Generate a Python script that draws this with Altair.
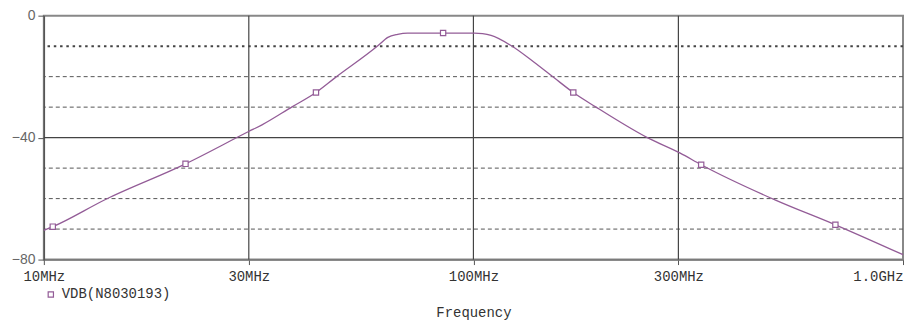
import altair as alt
import pandas as pd

# Curve samples (frequency in MHz, magnitude in dB)
freq_mhz = [10.0, 10.49, 13.95, 21.37, 29.97, 32.2, 37.82, 43.0, 47.6, 60.0, 63.2, 66.6,
            70.3, 85.0, 100.5, 105.0, 109.9, 122.3, 138.2, 153.9, 170.8, 192.5, 254.0, 303.0,
            339.0, 505.0, 696.0, 1000.0]
vdb = [-70.4, -69.2, -60.2, -48.6, -38.0, -35.8, -29.9, -25.2, -20.4, -9.8, -7.1, -6.1,
       -5.7, -5.7, -5.7, -5.9, -6.5, -9.8, -15.2, -20.3, -25.2, -29.9, -40.0, -45.1,
       -48.9, -60.5, -68.6, -78.4]

# Marker positions
marker_freq = [10.49, 21.37, 43.0, 85.0, 170.8, 339.0, 696.0]
marker_vdb = [-69.2, -48.6, -25.2, -5.7, -25.2, -48.9, -68.6]

series_name = "VDB(N8030193)"

x_tick_values = [10, 30, 100, 300, 1000]
x_tick_labels = ["10MHz", "30MHz", "100MHz", "300MHz", "1.0GHz"]
y_tick_values = [0, -40, -80]

dashed_levels = [-20, -30, -50, -60, -70]
dotted_levels = [-10]
solid_levels = [-40]
vertical_grid = [30, 100, 300]

PURPLE = "#935c97"
GRID = "#555555"
MONO = "Liberation Mono"

curve_df = pd.DataFrame({"f": freq_mhz, "db": vdb})
marker_df = pd.DataFrame({"f": marker_freq, "db": marker_vdb, "series": [series_name] * len(marker_freq)})

label_expr = " : ".join(
    [f"datum.value == {v} ? '{l}'" for v, l in zip(x_tick_values, x_tick_labels)]
) + " : ''"

x_scale = alt.Scale(type="log", domain=[10, 1000], nice=False)
y_scale = alt.Scale(domain=[-80, 0], nice=False)

x_axis = alt.Axis(
    values=x_tick_values,
    labelExpr=label_expr,
    grid=False,
    tickSize=5,
    tickColor="#555",
    domainColor="#777",
    domainWidth=1.5,
    labelFont=MONO,
    labelFontSize=14,
    labelColor="#333",
    labelPadding=5,
    labelAlign={"condition": {"test": "datum.value == 1000", "value": "right"}, "value": "center"},
    title="Frequency",
    titleFont=MONO,
    titleFontSize=14,
    titleFontWeight="normal",
    titleColor="#333",
    titleY=53,
    titleBaseline="middle",
)

y_axis = alt.Axis(
    values=y_tick_values,
    grid=False,
    tickSize=6,
    tickColor="#555",
    domainColor="#555",
    domainWidth=1.5,
    labelFont="Liberation Sans",
    labelFontSize=14,
    labelColor="#666",
    labelPadding=3,
    title=None,
)

dashed = alt.Chart(pd.DataFrame({"y": dashed_levels})).mark_rule(
    color=GRID, strokeWidth=1, strokeDash=[4, 3]
).encode(y=alt.Y("y:Q", scale=y_scale, axis=y_axis))

dotted = alt.Chart(pd.DataFrame({"y": dotted_levels})).mark_rule(
    color="#444", strokeWidth=2, strokeDash=[2.5, 3.8]
).encode(y=alt.Y("y:Q", scale=y_scale))

solid_h = alt.Chart(pd.DataFrame({"y": solid_levels})).mark_rule(
    color="#444", strokeWidth=1.2
).encode(y=alt.Y("y:Q", scale=y_scale))

solid_v = alt.Chart(pd.DataFrame({"x": vertical_grid})).mark_rule(
    color="#444", strokeWidth=1.2
).encode(x=alt.X("x:Q", scale=x_scale, axis=x_axis))

line = alt.Chart(curve_df).mark_line(color=PURPLE, strokeWidth=1.3, interpolate="monotone").encode(
    x=alt.X("f:Q", scale=x_scale),
    y=alt.Y("db:Q", scale=y_scale),
)

points = alt.Chart(marker_df).mark_point(
    shape="square", filled=False, fill="white", fillOpacity=1, size=28, strokeWidth=1.2, opacity=1
).encode(
    x=alt.X("f:Q", scale=x_scale),
    y=alt.Y("db:Q", scale=y_scale),
    color=alt.Color(
        "series:N",
        scale=alt.Scale(range=[PURPLE]),
        legend=alt.Legend(
            orient="none",
            legendX=0,
            legendY=273,
            title=None,
            symbolType="square",
            symbolSize=28,
            symbolStrokeWidth=1.2,
            symbolFillColor="white",
            labelFont=MONO,
            labelFontSize=14,
            labelColor="#333",
            padding=0,
            labelOffset=4,
        ),
    ),
)

chart = alt.layer(dashed, dotted, solid_h, solid_v, line, points).properties(
    width=863,
    height=245,
    autosize=alt.AutoSizeParams(type="none"),
    padding={"left": 36, "top": 7, "right": 2, "bottom": 64},
    background="white",
).configure_view(stroke="#888", strokeWidth=2)

chart.save("out.html", embed_options={"renderer": "svg", "actions": False})
